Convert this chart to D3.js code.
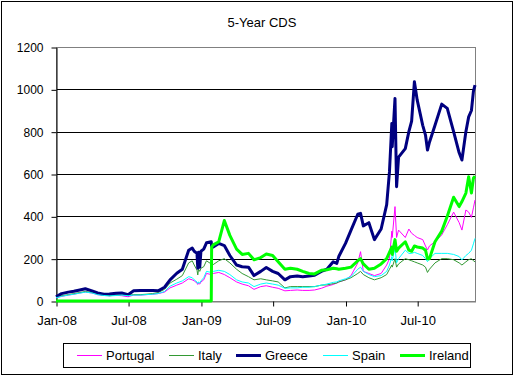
<!DOCTYPE html>
<html>
<head>
<meta charset="utf-8">
<script src="https://cdn.jsdelivr.net/npm/d3@7"></script>
<style>
  body { margin: 0; background: #fff; }
  svg { display: block; font-family: Arial, "Liberation Sans", sans-serif; }
</style>
</head>
<body>
<div id="chart"></div>
<script>
// observation dates (semi-monthly, plus extra days around the spikes)
const dates = [
  '2008-01-01','2008-01-15','2008-02-01','2008-02-15','2008-03-01','2008-03-15','2008-04-01','2008-04-15','2008-05-01','2008-05-15',
  '2008-06-01','2008-06-15','2008-07-01','2008-07-15','2008-08-01','2008-08-15','2008-09-01','2008-09-15','2008-10-01','2008-10-15',
  '2008-11-01','2008-11-15','2008-12-01','2008-12-10','2008-12-15','2008-12-22','2008-12-24','2008-12-26','2008-12-29',
  '2009-01-01','2009-01-08','2009-01-15','2009-01-27','2009-01-28','2009-02-01','2009-02-15','2009-03-01','2009-03-15','2009-04-01',
  '2009-04-15','2009-05-01','2009-05-15','2009-06-01','2009-06-15','2009-07-01','2009-07-15','2009-08-01','2009-08-15','2009-09-01',
  '2009-09-15','2009-10-01','2009-10-15','2009-11-01','2009-11-15','2009-12-01','2009-12-10','2009-12-15',
  '2010-01-01','2010-01-15','2010-02-01','2010-02-08','2010-02-15','2010-03-01','2010-03-15','2010-04-01','2010-04-15','2010-04-22',
  '2010-04-28','2010-04-29','2010-05-06','2010-05-10','2010-05-15','2010-06-01','2010-06-10','2010-06-17','2010-06-24','2010-07-01',
  '2010-07-15','2010-07-22','2010-07-27','2010-08-01','2010-08-15','2010-09-01','2010-09-15','2010-10-01','2010-10-15','2010-10-22',
  '2010-11-01','2010-11-08','2010-11-15','2010-11-20','2010-11-24'
];

const portugal = [
  15,22,28,32,38,42,38,30,26,25, 27,25,20,28,28,30,32,35,42,62, 75,85,105,100,95,85,78,85,80,
  90,100,130,125,130,130,135,125,110,90, 80,72,55,68,72,65,60,48,50,52, 50,50,52,60,70,78,85,90,
  100,120,180,233,140,130,120,130,170,200, 330,300,446,300,335,300,340,320,310,300,
  290,260,241,260,280,312,360,420,370,335, 430,420,395,440,477
];
const italy = [
  18,25,30,35,40,45,40,33,28,25, 28,30,27,30,30,32,35,40,55,85, 103,120,180,190,170,146,123,150,140,
  155,162,190,175,180,172,190,200,180,150, 130,115,100,105,100,95,90,62,68,68, 68,68,68,75,76,82,85,90,
  100,110,130,140,125,110,100,110,125,150, 170,160,200,160,175,200,195,190,185,180,
  170,160,135,150,180,200,200,195,180,170, 185,195,200,190,185
];
const greece = [
  20,35,42,46,52,58,48,38,32,33, 37,38,30,48,50,50,50,48,65,100, 131,150,240,250,235,225,155,230,160,
  235,245,275,280,258,255,272,262,215,170, 162,160,120,140,158,140,130,100,115,118, 115,118,122,140,150,185,178,210,
  272,335,410,414,355,370,290,340,455,610, 839,729,957,540,680,720,800,850,1036,950,
  830,784,713,750,830,930,910,800,700,666, 800,870,900,990,1020
];
const spain = [
  15,22,28,32,37,42,38,30,26,24, 26,28,25,28,28,30,32,35,45,70, 85,95,115,110,100,90,82,90,85,
  95,110,140,135,140,140,145,140,125,100, 90,85,68,80,85,80,75,60,62,62, 65,65,68,75,80,88,90,95,
  105,115,150,160,140,125,115,120,140,170, 210,190,250,180,200,240,225,225,230,225,
  215,200,186,200,225,225,225,220,210,194, 215,225,240,270,296
];
const ireland = [
  0,0,0,0,0,0,0,0,0,0, 0,0,0,0,0,0,0,0,0,0, 0,0,0,0,0,0,0,0,0,
  0,0,0,0,255,265,280,380,310,245, 220,225,195,205,222,215,185,150,155,150, 140,130,128,145,148,155,152,150,
  155,160,190,200,175,150,155,175,200,230, 255,220,290,235,250,280,240,235,260,255,
  250,240,200,200,280,330,400,490,446,470, 510,587,510,580,590
];

const seriesNames = ['Portugal', 'Italy', 'Greece', 'Spain', 'Ireland'];
const seriesValues = [portugal, italy, greece, spain, ireland];
const seriesColors = ['#FF00FF', '#339933', '#000080', '#00FFFF', '#00FF00'];
const seriesWidths = [1, 1, 3, 1, 3];

const yTicks = [0, 200, 400, 600, 800, 1000, 1200];

const width = 514, height = 377;
const plot = {left: 56, right: 475, top: 47, bottom: 301};
const legendX = [77, 169, 236, 323, 400];

const parseDate = d3.timeParse('%Y-%m-%d');
const parsedDates = dates.map(parseDate);

const svg = d3.select('#chart').append('svg')
    .attr('width', width)
    .attr('height', height);

// chart border
svg.append('rect')
    .attr('x', 1.5).attr('y', 1.5)
    .attr('width', 511).attr('height', 373)
    .attr('fill', '#fff')
    .attr('stroke', '#000');

svg.append('text')
    .attr('x', 262).attr('y', 27)
    .attr('text-anchor', 'middle')
    .style('font-size', '13px')
    .text('5-Year CDS');

const x = d3.scaleTime()
    .domain([parseDate('2008-01-01'), parseDate('2010-11-24')])
    .range([plot.left, plot.right]);

const y = d3.scaleLinear()
    .domain([0, 1200])
    .range([plot.bottom, plot.top]);

// gridlines
svg.append('g')
    .selectAll('line')
    .data(yTicks.filter(t => t > 0 && t < 1200))
    .enter().append('line')
    .attr('x1', plot.left).attr('x2', plot.right)
    .attr('y1', d => Math.round(y(d)) + 0.5)
    .attr('y2', d => Math.round(y(d)) + 0.5)
    .attr('stroke', '#000')
    .attr('stroke-width', 1);

// plot area frame (grey)
svg.append('rect')
    .attr('x', plot.left + 0.5).attr('y', plot.top + 0.5)
    .attr('width', plot.right - plot.left).attr('height', plot.bottom - plot.top)
    .attr('fill', 'none')
    .attr('stroke', '#808080');

// y axis
const yAxis = svg.append('g')
    .attr('transform', `translate(${plot.left + 0.5},0.5)`)
    .call(d3.axisLeft(y).tickValues(yTicks).tickFormat(d3.format('d'))
        .tickSize(5).tickPadding(8).tickSizeOuter(0));
yAxis.select('.domain').attr('stroke', '#000');
yAxis.selectAll('text').style('font-size', '12px').attr('fill', '#000').attr('font-family', null);

// x axis
const xAxis = svg.append('g')
    .attr('transform', `translate(0.5,${plot.bottom + 0.5})`)
    .call(d3.axisBottom(x)
        .ticks(d3.timeMonth.every(6))
        .tickFormat(d3.timeFormat('%b-%y'))
        .tickSize(5).tickPadding(9).tickSizeOuter(0));
xAxis.select('.domain').attr('stroke', '#808080');
xAxis.selectAll('text').style('font-size', '13px').attr('fill', '#000').attr('font-family', null);

// series lines
const line = d3.line()
    .x((d, i) => x(parsedDates[i]))
    .y(d => y(d));

seriesValues.forEach((vals, k) => {
    svg.append('path')
        .datum(vals)
        .attr('d', line)
        .attr('fill', 'none')
        .attr('stroke', seriesColors[k])
        .attr('stroke-width', seriesWidths[k])
        .attr('stroke-linejoin', 'round');
});

// legend
const legend = svg.append('g');
legend.append('rect')
    .attr('x', 63.5).attr('y', 343.5)
    .attr('width', 407).attr('height', 24)
    .attr('fill', '#fff')
    .attr('stroke', '#000');

seriesNames.forEach((name, k) => {
    const lx = legendX[k];
    legend.append('line')
        .attr('x1', lx).attr('x2', lx + 25)
        .attr('y1', 355.5).attr('y2', 355.5)
        .attr('stroke', seriesColors[k])
        .attr('stroke-width', seriesWidths[k]);
    legend.append('text')
        .attr('x', lx + 29).attr('y', 360)
        .style('font-size', '13px')
        .text(name);
});
</script>
</body>
</html>
